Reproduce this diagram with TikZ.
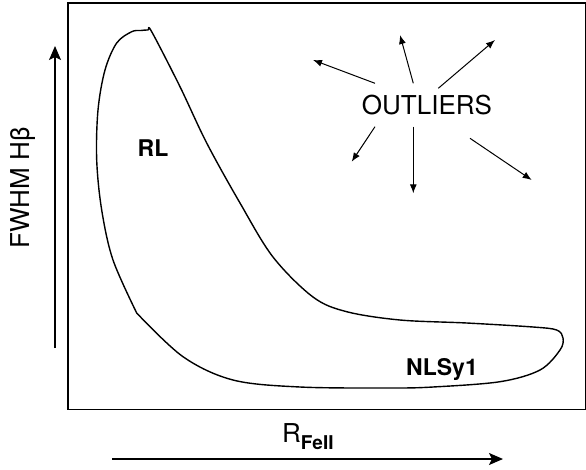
\documentclass[tikz,border=0pt]{standalone}
\usepackage{fontspec}
\setmainfont{TeX Gyre Heros}
\usetikzlibrary{arrows.meta,positioning}

\begin{document}
\begin{tikzpicture}[
    x=1pt, y=-1pt,
    frame/.style={draw, line width=1.6pt},
    outline/.style={line width=1.4pt, line join=round},
    axis/.style={-{Stealth[length=14pt, width=12pt, inset=3pt]}, line width=1.3pt},
    scatter/.style={-{Latex[length=9pt, width=7pt]}, line width=1pt},
    big/.style={font=\fontsize{26}{26}\selectfont, inner sep=0pt},
    tag/.style={font=\fontsize{23}{23}\selectfont\bfseries, inner sep=0pt}
]
\useasboundingbox (0,0) rectangle (586,469);

% Frame
\draw[frame] (67.7,3) rectangle (585.5,409.5);

% Axes
\coordinate (ybot) at (55,348);
\coordinate (ytop) at (55,46);
\coordinate (xleft) at (112,459);
\coordinate (xright) at (503,459);
\draw[axis] (ybot) -- (ytop);
\draw[axis] (xleft) -- (xright);
\node[big, rotate=90] (ylab) at (23,188) {FWHM Hβ};
\node[big, anchor=base west] (xlab) at (282,442)
    {R\raisebox{-7pt}{\fontsize{19}{19}\selectfont\bfseries FeII}};

% Region
\draw[outline] plot[smooth, tension=0.55] coordinates {
    (136.7,313) (113,260) (101.7,210) (96.7,160) (98,110) (105,70)
    (116.7,43) (131.7,31.7) (141,30.5) (148,30) (151.7,31.7)
    (180,86.7) (206.7,143) (240,203) (273,257) (313,297) (346.7,311.7)
    (400,320) (466.7,323) (533,327) (556.7,330) (563,338) (560,350)
    (540,370) (500,381.7) (433,387) (390,388) (300,387) (233,380)
    (183,356.7) (136.7,313)};
\node[tag] (rl) at (153,148) {RL};
\node[tag] (nls) at (442,369) {NLSy1};

% Outliers
\node[big] (out) at (427,105) {OUTLIERS};
\coordinate (o1) at (313,60);
\coordinate (o2) at (400,35);
\coordinate (o3) at (495,40);
\coordinate (o4) at (351.7,161.7);
\coordinate (o5) at (413.3,193.3);
\coordinate (o6) at (531.7,180);
\draw[scatter] (375,83.3) -- (o1);
\draw[scatter] (413.3,83.3) -- (o2);
\draw[scatter] (438.3,88.3) -- (o3);
\draw[scatter] (375,126.7) -- (o4);
\draw[scatter] (413.3,126.7) -- (o5);
\draw[scatter] (470,138.3) -- (o6);

\end{tikzpicture}
\end{document}
